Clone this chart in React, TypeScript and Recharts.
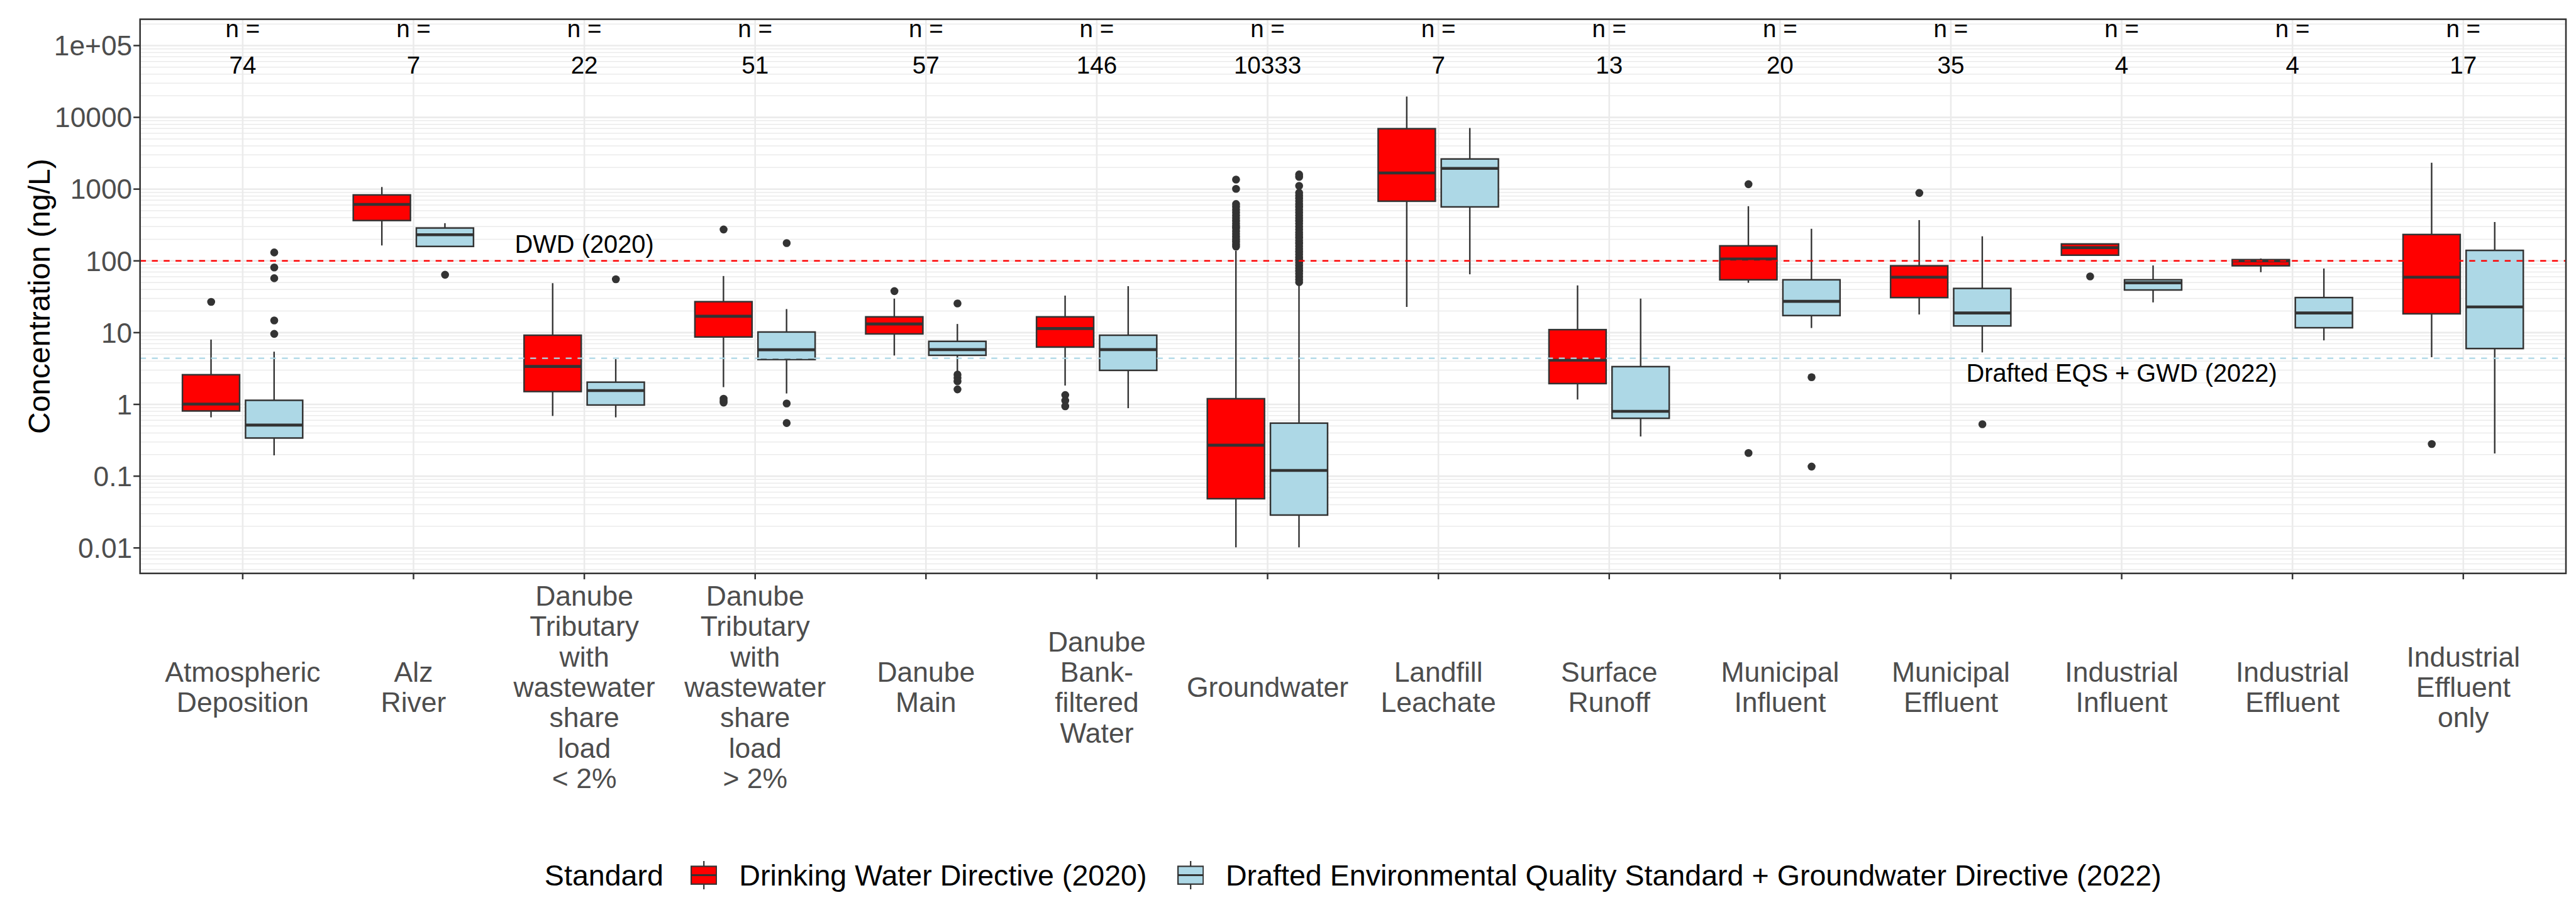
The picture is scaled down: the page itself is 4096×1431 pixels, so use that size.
import React from 'react'
import {
  ComposedChart,
  Bar,
  Scatter,
  XAxis,
  YAxis,
  CartesianGrid,
  ReferenceLine,
  ReferenceDot,
} from 'recharts'

const categories = [
  'Atmospheric\nDeposition',
  'Alz\nRiver',
  'Danube\nTributary\nwith\nwastewater\nshare\nload\n< 2%',
  'Danube\nTributary\nwith\nwastewater\nshare\nload\n> 2%',
  'Danube\nMain',
  'Danube\nBank-\nfiltered\nWater',
  'Groundwater',
  'Landfill\nLeachate',
  'Surface\nRunoff',
  'Municipal\nInfluent',
  'Municipal\nEffluent',
  'Industrial\nInfluent',
  'Industrial\nEffluent',
  'Industrial\nEffluent\nonly',
]

const nCounts = [74, 7, 22, 51, 57, 146, 10333, 7, 13, 20, 35, 4, 4, 17]

// [lower whisker, q1, median, q3, upper whisker] in ng/L
const dwdStats = [
  [0.66, 0.81, 1.01, 2.59, 8.0],
  [164, 365, 612, 830, 1070],
  [0.69, 1.51, 3.38, 9.2, 48.9],
  [1.74, 8.7, 16.9, 27, 61.5],
  [4.8, 9.6, 13.2, 16.6, 29.8],
  [1.83, 6.3, 11.4, 16.6, 32.8],
  [0.0102, 0.0485, 0.27, 1.2, 138],
  [22.8, 678, 1680, 6950, 19450],
  [1.17, 1.95, 4.13, 11.0, 45.5],
  [49.5, 54.5, 106, 162, 578],
  [17.9, 30.8, 59.3, 85.4, 370],
  [120, 120, 153, 172, 172],
  [69.5, 85.4, 100, 104, 108],
  [4.55, 18.3, 59.3, 233, 2335],
]

const eqsStats = [
  [0.195, 0.34, 0.515, 1.14, 5.43],
  [159, 159, 231, 287, 335],
  [0.66, 0.98, 1.56, 2.04, 4.27],
  [1.42, 4.22, 5.77, 10.2, 21.3],
  [2.85, 4.83, 5.8, 7.56, 13.2],
  [0.885, 2.98, 5.8, 9.2, 44.4],
  [0.0102, 0.0287, 0.12, 0.548, 45],
  [65, 565, 1945, 2630, 7110],
  [0.357, 0.64, 0.8, 3.36, 29.8],
  [11.6, 17.3, 27.3, 54.5, 280],
  [5.3, 12.4, 18.8, 41.3, 220],
  [26.4, 39.3, 49.5, 54.5, 86.4],
  [7.8, 11.7, 18.8, 30.8, 78.3],
  [0.207, 6.0, 22.8, 140, 348],
]

const dwdOutliers = [
  [26.8],
  [],
  [],
  [274, 1.2, 1.12, 1.06],
  [37.9],
  [1.35, 1.13, 0.94],
  [158, 170, 185, 200, 218, 238, 260, 285, 303, 330, 360, 395, 430, 470, 515, 565, 620, 1010, 1360],
  [],
  [],
  [1170, 0.21],
  [883],
  [60.8],
  [],
  [0.28],
]

const eqsOutliers = [
  [131, 81, 57.3, 14.8, 9.6],
  [64],
  [55.5],
  [177, 1.03, 0.55],
  [25.5, 2.6, 2.35, 2.1, 1.62],
  [],
  [
    50.5, 55, 60, 66, 72, 79, 86, 94, 103, 112, 123, 134, 147, 160, 175, 192, 210, 230, 250, 275, 300,
    330, 360, 395, 430, 470, 515, 565, 620, 680, 745, 815, 890, 1110, 1480, 1600,
  ],
  [],
  [],
  [2.39, 0.136],
  [0.53],
  [],
  [],
  [],
]

const yTicks = [0.01, 0.1, 1, 10, 100, 1000, 10000, 100000]
const Y_DOMAIN = [Math.pow(10, -2.355), Math.pow(10, 5.367)]
const DWD_LIMIT = 100
const EQS_LIMIT = 4.4

const minorBreaks: number[] = []
for (let k = -3; k <= 5; k++) {
  for (let m = 2; m <= 9; m++) {
    const v = m * Math.pow(10, k)
    if (v > Y_DOMAIN[0] && v < Y_DOMAIN[1]) minorBreaks.push(v)
  }
}

const FONT = '"Liberation Sans", Arial, Helvetica, sans-serif'
const INK = '#333333'
const RED = '#FF0000'
const LIGHTBLUE = '#ADD8E6'

const W = 4096
const H = 1431
const PLOT_LEFT = 222.7
const PLOT_TOP = 30.6
const PLOT_RIGHT = 4080
const PLOT_BOTTOM = 911.7
const BOX_W = 90.9
const BOX_GAP = 9.4
const DODGE = (BOX_W + BOX_GAP) / 2
const X_TICK_SIZE = 9.4

const chartData = categories.map((name, i) => ({
  name,
  n: nCounts[i],
  dwdWhisker: [dwdStats[i][0], dwdStats[i][4]],
  dwdBox: [dwdStats[i][1], dwdStats[i][3]],
  eqsWhisker: [eqsStats[i][0], eqsStats[i][4]],
  eqsBox: [eqsStats[i][1], eqsStats[i][3]],
}))

const dwdMedians = categories.map((name, i) => ({ name, v: dwdStats[i][2] }))
const eqsMedians = categories.map((name, i) => ({ name, v: eqsStats[i][2] }))
const dwdPoints = categories.flatMap((name, i) => dwdOutliers[i].map((v) => ({ name, v })))
const eqsPoints = categories.flatMap((name, i) => eqsOutliers[i].map((v) => ({ name, v })))
const nLabels = categories.map((name, i) => ({ name, v: 100000, n: nCounts[i] }))

const formatTick = (v: number) => (v >= 100000 ? '1e+05' : String(v))

const BoxShape = (props: any) => {
  const { x, y, width, height, fill } = props
  return <rect x={x} y={y} width={width} height={height} fill={fill} stroke={INK} strokeWidth={2.5} />
}

const WhiskerShape = (props: any) => {
  const { x, y, width, height } = props
  const cx = x + width / 2
  return <line x1={cx} x2={cx} y1={y} y2={y + height} stroke={INK} strokeWidth={2.4} />
}

const medianShape = (shift: number) => (props: any) => {
  const { cx, cy } = props
  const c = cx + shift
  return <line x1={c - BOX_W / 2} x2={c + BOX_W / 2} y1={cy} y2={cy} stroke={INK} strokeWidth={4.6} />
}

const outlierShape = (shift: number) => (props: any) => {
  const { cx, cy } = props
  return <circle cx={cx + shift} cy={cy} r={6.3} fill={INK} />
}

const nLabelShape = (props: any) => {
  const { cx, cy, payload } = props
  return (
    <g fontFamily={FONT} fontSize={38.6} fill="#000000" textAnchor="middle">
      <text x={cx} y={cy - 13.3}>n =</text>
      <text x={cx} y={cy + 44.8}>{payload.n}</text>
    </g>
  )
}

const annotation = (text: string) => (props: any) => (
  <text x={props.cx} y={props.cy} dy="0.35em" textAnchor="middle" fontFamily={FONT} fontSize={39.8} fill="#000000">
    {text}
  </text>
)

const XTick = (props: any) => {
  const { x, y, payload } = props
  const lines: string[] = String(payload.value).split('\n')
  const fs = 44.5
  const lh = 48.3
  const center = y + (1092.5 - PLOT_BOTTOM - X_TICK_SIZE)
  const first = center - ((lines.length - 1) * lh) / 2 + 0.35 * fs
  return (
    <text textAnchor="middle" fontFamily={FONT} fontSize={fs} fill="#4D4D4D">
      {lines.map((l, i) => (
        <tspan key={i} x={x} y={first + i * lh}>
          {l}
        </tspan>
      ))}
    </text>
  )
}

const LegendKey = ({ fill }: { fill: string }) => (
  <svg width={42.4} height={45.2} style={{ display: 'block' }}>
    <line x1={21.2} x2={21.2} y1={0} y2={45.2} stroke={INK} strokeWidth={2.2} />
    <rect x={1.1} y={8.45} width={40.2} height={28.3} fill={fill} stroke={INK} strokeWidth={2.2} />
    <line x1={1.1} x2={41.3} y1={22.6} y2={22.6} stroke={INK} strokeWidth={3} />
  </svg>
)

export default function App() {
  return (
    <div style={{ position: 'relative', width: W, height: H, background: '#ffffff', fontFamily: FONT }}>
      <style>{'body{margin:0;}'}</style>
      <ComposedChart
        width={W}
        height={H}
        data={chartData}
        margin={{ top: PLOT_TOP, right: W - PLOT_RIGHT, left: 0, bottom: 0 }}
        barGap={BOX_GAP}
      >
        <CartesianGrid stroke="#EBEBEB" strokeWidth={1.5} vertical={false} horizontalValues={minorBreaks} />
        <CartesianGrid stroke="#EBEBEB" strokeWidth={2.6} />
        <XAxis
          dataKey="name"
          type="category"
          allowDuplicatedCategory={false}
          padding={{ left: 27.4, right: 27.4 }}
          height={H - PLOT_BOTTOM}
          interval={0}
          axisLine={false}
          tickLine={{ stroke: INK, strokeWidth: 2.5 }}
          tickSize={X_TICK_SIZE}
          tickMargin={0}
          tick={<XTick />}
        />
        <XAxis
          xAxisId="w"
          dataKey="name"
          type="category"
          allowDuplicatedCategory={false}
          padding={{ left: 27.4, right: 27.4 }}
          hide
        />
        <YAxis
          scale="log"
          domain={Y_DOMAIN}
          allowDataOverflow
          ticks={yTicks}
          interval={0}
          tickFormatter={formatTick}
          width={PLOT_LEFT}
          axisLine={false}
          tickLine={{ stroke: INK, strokeWidth: 2.5 }}
          tickSize={10.5}
          tickMargin={2}
          tick={{ fill: '#4D4D4D', fontSize: 44.3, fontFamily: FONT }}
        />
        <Bar xAxisId="w" dataKey="dwdWhisker" barSize={BOX_W} shape={WhiskerShape} isAnimationActive={false} />
        <Bar xAxisId="w" dataKey="eqsWhisker" barSize={BOX_W} shape={WhiskerShape} isAnimationActive={false} />
        <Bar dataKey="dwdBox" barSize={BOX_W} fill={RED} shape={BoxShape} isAnimationActive={false} />
        <Bar dataKey="eqsBox" barSize={BOX_W} fill={LIGHTBLUE} shape={BoxShape} isAnimationActive={false} />
        <Scatter data={dwdMedians} dataKey="v" shape={medianShape(-DODGE)} isAnimationActive={false} />
        <Scatter data={eqsMedians} dataKey="v" shape={medianShape(DODGE)} isAnimationActive={false} />
        <Scatter data={dwdPoints} dataKey="v" shape={outlierShape(-DODGE)} isAnimationActive={false} />
        <Scatter data={eqsPoints} dataKey="v" shape={outlierShape(DODGE)} isAnimationActive={false} />
        <ReferenceLine y={DWD_LIMIT} stroke={RED} strokeWidth={2.5} strokeDasharray="9.4 9.4" zIndex={1000} />
        <ReferenceLine y={EQS_LIMIT} stroke={LIGHTBLUE} strokeWidth={2.2} strokeDasharray="9.4 9.4" zIndex={1000} />
        <Scatter data={nLabels} dataKey="v" shape={nLabelShape} isAnimationActive={false} />
        <ReferenceDot x={categories[2]} y={170} r={0} shape={annotation('DWD (2020)')} zIndex={1000} />
        <ReferenceDot x={categories[11]} y={2.75} r={0} shape={annotation('Drafted EQS + GWD (2022)')} zIndex={1000} />
      </ComposedChart>
      <svg width={W} height={H} style={{ position: 'absolute', left: 0, top: 0, pointerEvents: 'none' }}>
        <rect
          x={PLOT_LEFT}
          y={PLOT_TOP}
          width={PLOT_RIGHT - PLOT_LEFT}
          height={PLOT_BOTTOM - PLOT_TOP}
          fill="none"
          stroke={INK}
          strokeWidth={2.5}
        />
        <text
          transform={`translate(78.6, ${(PLOT_TOP + PLOT_BOTTOM) / 2}) rotate(-90)`}
          textAnchor="middle"
          fontFamily={FONT}
          fontSize={48}
          fill="#000000"
        >
          Concentration (ng/L)
        </text>
      </svg>
      <div
        style={{
          position: 'absolute',
          left: PLOT_LEFT,
          width: PLOT_RIGHT - PLOT_LEFT,
          top: 1391.7 - 30,
          height: 60,
          display: 'flex',
          alignItems: 'center',
          justifyContent: 'center',
          fontSize: 46.6,
          color: '#000000',
          whiteSpace: 'nowrap',
        }}
      >
        <span style={{ marginRight: 43 }}>Standard</span>
        <LegendKey fill={RED} />
        <span style={{ marginLeft: 35, marginRight: 48 }}>Drinking Water Directive (2020)</span>
        <LegendKey fill={LIGHTBLUE} />
        <span style={{ marginLeft: 35 }}>Drafted Environmental Quality Standard + Groundwater Directive (2022)</span>
      </div>
    </div>
  )
}
